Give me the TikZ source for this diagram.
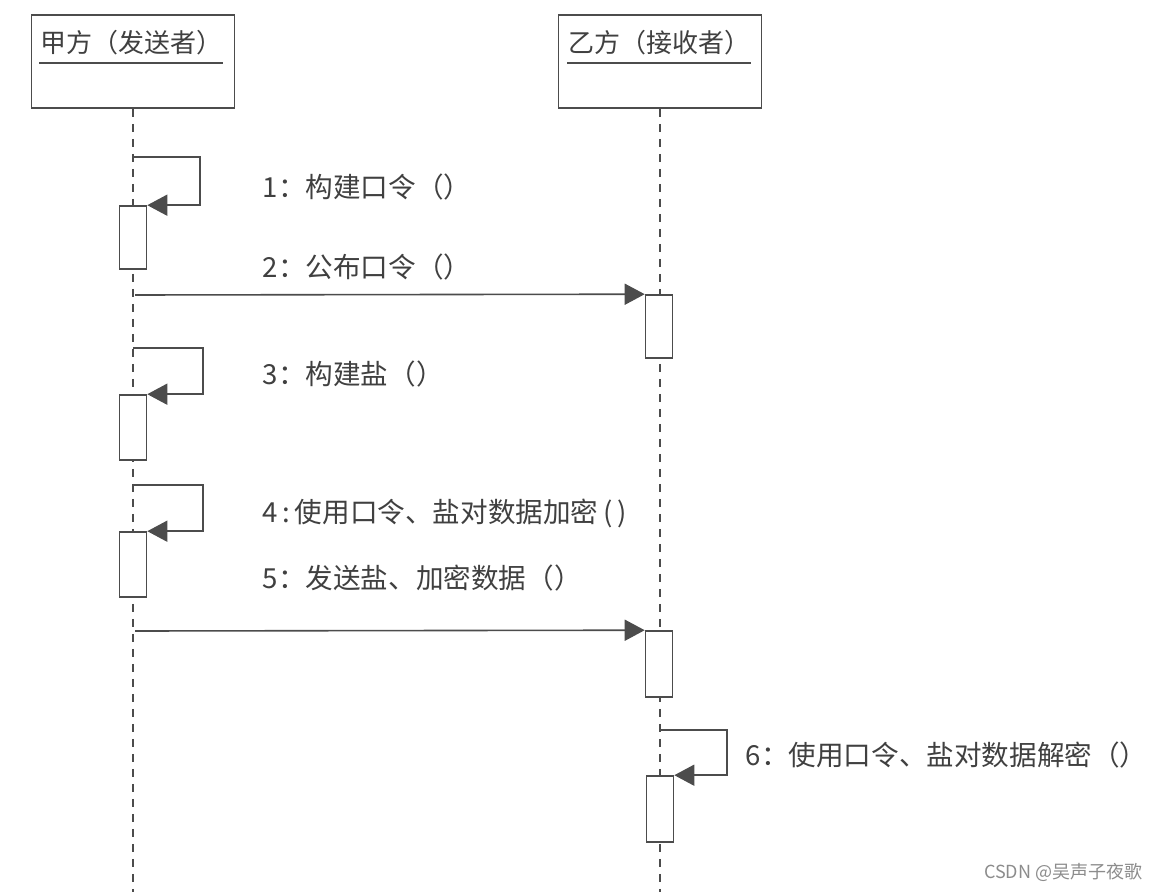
\documentclass[tikz,border=0pt]{standalone}
\usepackage{fontspec}
\usepackage{xcolor}
\setmainfont{Noto Sans CJK SC}
\newfontfamily\cjk{Noto Sans CJK SC}
\usetikzlibrary{arrows.meta,calc}

\begin{document}
\begin{tikzpicture}[x=0.5pt, y=-0.5pt,
  line width=0.8pt, color=black!70,
  every node/.style={font=\cjk\fontsize{13pt}{15pt}\selectfont, text=black!75},
  obj/.style={draw, fill=white, minimum width=101.5pt, minimum height=46.5pt, inner sep=0pt},
  act/.style={draw, fill=white, minimum width=13.5pt, minimum height=32pt, inner sep=0pt},
  life/.style={line width=0.6pt, dash pattern=on 4pt off 3.5pt},
  msg/.style={-{Triangle[length=10pt, width=10.5pt]}, shorten >=0pt},
  lbl/.style={anchor=west, inner sep=0pt, font=\cjk\fontsize{13.8pt}{16pt}\selectfont}]
\useasboundingbox (0,0) rectangle (1160,892);
\fill[white] (0,0) rectangle (1160,892);

% objects
\node[obj] (pa) at (133,61.5) {};
\node[obj] (pb) at (660,61.5) {};
\node[inner sep=0pt] (ta) at (131,43) {甲方（发送者）};
\node[inner sep=0pt] (tb) at (659,43) {乙方（接收者）};
\draw ($(ta.west)+(0,20)$) -- ($(ta.east)+(0,20)$);
\draw ($(tb.west)+(0,20)$) -- ($(tb.east)+(0,20)$);

% lifelines
\coordinate (ea) at (133,892);
\coordinate (eb) at (660,892);
\draw[life] (pa.south) -- (ea);
\draw[life] (pb.south) -- (eb);

% activations
\node[act, minimum height=31.5pt] (act1) at (133,237.5) {};
\node[act, minimum height=31.5pt] (act2) at (659,326.5) {};
\node[act, minimum height=32.5pt] (act3) at (133,427.5) {};
\node[act, minimum height=32.5pt] (act4) at (133,564.5) {};
\node[act, minimum height=33pt] (act5) at (659,664) {};
\node[act, minimum height=33pt] (act6) at (660,809) {};

% messages
\coordinate (s1) at (133,157);
\coordinate (s2) at (135,295);
\coordinate (s3) at (133,348);
\coordinate (s4) at (133,485);
\coordinate (s5) at (135,631);
\coordinate (s6) at (660,730);
\draw[msg] (s1) -- ++(67,0) |- (act1.north east);
\draw[msg] (s2) -- (act2.north west);
\draw[msg] (s3) -- ++(70,0) |- (act3.north east);
\draw[msg] (s4) -- ++(70,0) |- (act4.north east);
\draw[msg] (s5) -- (act5.north west);
\draw[msg] (s6) -- ++(67,0) |- (act6.north east);

% labels
\node[lbl] (l1) at (262,187) {1：构建口令（）};
\node[lbl] (l2) at (262,267) {2：公布口令（）};
\node[lbl] (l3) at (262,374) {3：构建盐（）};
\node[lbl] (l4) at (262,513) {4\,:\,使用口令、盐对数据加密\,(\,)};
\node[lbl] (l5) at (262,578) {5：发送盐、加密数据（）};
\node[lbl] (l6) at (745,755) {6：使用口令、盐对数据解密（）};

\node[anchor=east, inner sep=0pt, font=\cjk\fontsize{9pt}{11pt}\selectfont, text=black!45] (wm) at (1143,872) {CSDN @吴声子夜歌};
\end{tikzpicture}
\end{document}
